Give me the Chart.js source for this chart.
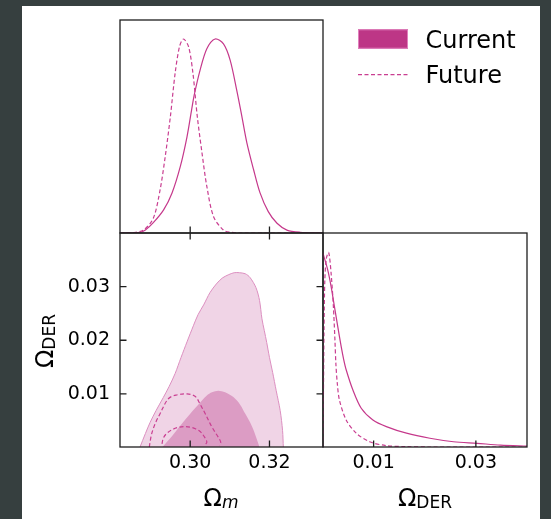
<!DOCTYPE html>
<html>
<head>
<meta charset="utf-8">
<title>Omega_m / Omega_DER</title>
<script src="https://cdn.jsdelivr.net/npm/chart.js@4.4.1/dist/chart.umd.min.js"></script>
<style>
  html, body { margin: 0; padding: 0; background: #363f3f; }
  #page { position: relative; width: 551px; height: 519px; overflow: hidden; font-family: "DejaVu Sans", sans-serif; }
  #paper { position: absolute; left: 22px; top: 6px; width: 518px; height: 513px; background: #fff; }
  canvas { position: absolute; }
  .axlab { position: absolute; font-size: 24px; line-height: 24px; color: #000; white-space: nowrap; }
  .axlab sub { font-size: 17px; line-height: 0; vertical-align: baseline; position: relative; top: 2px; }
</style>
</head>
<body>
<div id="page">
  <div id="paper"></div>
  <canvas id="omPanel" width="421" height="215" style="left:119px; top:19px;"></canvas>
  <canvas id="jointPanel" width="302" height="250" style="left:22px; top:232px;"></canvas>
  <canvas id="derPanel" width="206" height="250" style="left:322px; top:232px;"></canvas>
  <div class="axlab" style="left:221px; top:486px; transform: translateX(-50%);">Ω<sub><i>m</i></sub></div>
  <div class="axlab" style="left:425px; top:486px; transform: translateX(-50%);">Ω<sub>DER</sub></div>
  <div class="axlab" style="left:45px; top:341px; transform: translate(-50%, -50%) rotate(-90deg);">Ω<sub>DER</sub></div>
</div>
<script>
// axis ranges and ticks
const omRange = [0.2823, 0.3335];
const omTicks = [0.30, 0.32];
const derRange = [0.0001, 0.0400];
const derTicks = [0.01, 0.02, 0.03];
const derLabelTicks = [0.01, 0.03];

// 1D marginal of Omega_m
const omCurX = [0.2823, 0.2874, 0.2887, 0.2907, 0.2933, 0.2954, 0.2975, 0.2992, 0.3004, 0.3010, 0.3025, 0.3042, 0.3063, 0.3084, 0.3101, 0.3118, 0.3130, 0.3143, 0.3160, 0.3176, 0.3197, 0.3219, 0.3244, 0.3277, 0.3335];
const omCurP = [0, 0.004, 0.015, 0.053, 0.119, 0.205, 0.342, 0.496, 0.64, 0.71, 0.84, 0.95, 1.0, 0.975, 0.89, 0.73, 0.605, 0.465, 0.326, 0.208, 0.110, 0.050, 0.015, 0.004, 0];
const omFutX = [0.2823, 0.2856, 0.2882, 0.2907, 0.2924, 0.2937, 0.2950, 0.2962, 0.2973, 0.2983, 0.2996, 0.3007, 0.3018, 0.3030, 0.3042, 0.3059, 0.3084, 0.3101, 0.3126, 0.3335];
const omFutP = [0, 0.002, 0.015, 0.076, 0.221, 0.393, 0.599, 0.823, 0.960, 1.0, 0.960, 0.823, 0.599, 0.410, 0.240, 0.084, 0.015, 0.004, 0, 0];

// 1D marginal of Omega_DER
const derCurX = [0.00005, 0.00101, 0.00168, 0.00233, 0.00298, 0.00365, 0.00416, 0.00463, 0.00593, 0.00758, 0.00986, 0.01249, 0.01643, 0.02101, 0.02562, 0.03022, 0.03481, 0.04006];
const derCurP = [1.0, 0.912, 0.826, 0.723, 0.620, 0.517, 0.448, 0.397, 0.294, 0.199, 0.139, 0.105, 0.071, 0.045, 0.027, 0.019, 0.010, 0.005];
const derFutX = [0.00003, 0.00017, 0.00030, 0.00046, 0.00076, 0.00121, 0.00168, 0.00213, 0.00243, 0.00263, 0.00292, 0.00331, 0.00463, 0.00660, 0.00922, 0.01250, 0.01643, 0.02102, 0.04006];
const derFutP = [0, 0.24, 0.60, 0.86, 0.97, 1.0, 0.895, 0.723, 0.552, 0.423, 0.32, 0.242, 0.139, 0.071, 0.027, 0.007, 0.002, 0, 0];

// 2D contours (Omega_m, Omega_DER)
const cur95X = [0.2873, 0.2887, 0.2899, 0.2914, 0.2932, 0.2947, 0.2962, 0.2977, 0.2992, 0.3008, 0.3020, 0.3034, 0.3050, 0.3066, 0.3081, 0.3096, 0.3111, 0.3124, 0.3139, 0.3151, 0.3166, 0.3175, 0.3181, 0.3187, 0.3193, 0.3200, 0.3208, 0.3217, 0.3227, 0.3233, 0.3235];
const cur95Y = [0, 0.0026, 0.0047, 0.0069, 0.0093, 0.0114, 0.0138, 0.0168, 0.0197, 0.0227, 0.0248, 0.0266, 0.0289, 0.0305, 0.0316, 0.0322, 0.0326, 0.0326, 0.0324, 0.0317, 0.0298, 0.0274, 0.0240, 0.0218, 0.0196, 0.0168, 0.0140, 0.0106, 0.0069, 0.0032, 0];
const cur68X = [0.2929, 0.2955, 0.2992, 0.3018, 0.3042, 0.3055, 0.3071, 0.3088, 0.3109, 0.3126, 0.3139, 0.3151, 0.3160, 0.3172, 0.3175];
const cur68Y = [0, 0.0022, 0.0056, 0.0078, 0.0097, 0.0103, 0.0106, 0.0103, 0.0094, 0.0080, 0.0063, 0.0047, 0.0032, 0.0007, 0];
const fut95X = [0.2897, 0.2899, 0.2903, 0.2912, 0.2924, 0.2945, 0.2966, 0.2992, 0.3013, 0.3025, 0.3038, 0.3055, 0.3071, 0.3077, 0.3074];
const fut95Y = [0.0001, 0.0011, 0.0026, 0.0045, 0.0063, 0.0091, 0.0098, 0.0100, 0.0095, 0.0081, 0.0063, 0.0038, 0.0019, 0.0010, 0.0004];
const fut68X = [0.2929, 0.2932, 0.2939, 0.2954, 0.2967, 0.2983, 0.3000, 0.3013, 0.3025, 0.3034, 0.3042, 0.3035];
const fut68Y = [0.0007, 0.0017, 0.0025, 0.0033, 0.0037, 0.0039, 0.0038, 0.0035, 0.0030, 0.0022, 0.0010, 0.0004];

const lineCurrent = '#c5388b';
const lineFuture = '#c93e91';
const currentFill = '#bd3686';
const outerFill = '#f0d4e6';
const outerEdge = '#dc8fc0';
const innerFill = '#dc9cc4';

Chart.defaults.font.family = '"DejaVu Sans", sans-serif';
Chart.defaults.color = '#000';

function pts(xs, ys) {
    return xs.map((x, i) => ({x: x, y: ys[i]}));
}

// box around the panel plus inward ticks
const framePlugin = {
    id: 'frame',
    afterDraw(chart, args, opts) {
        const ctx = chart.ctx, a = chart.chartArea, sx = chart.scales.x, sy = chart.scales.y;
        const len = 6.5;
        ctx.save();
        ctx.strokeStyle = '#1e1e1e';
        ctx.lineWidth = 1.3;
        ctx.strokeRect(a.left, a.top, a.right - a.left, a.bottom - a.top);
        ctx.beginPath();
        (opts.bottom || []).forEach(v => { const x = sx.getPixelForValue(v); ctx.moveTo(x, a.bottom); ctx.lineTo(x, a.bottom - len); });
        (opts.top || []).forEach(v => { const x = sx.getPixelForValue(v); ctx.moveTo(x, a.top); ctx.lineTo(x, a.top + len); });
        (opts.left || []).forEach(v => { const y = sy.getPixelForValue(v); ctx.moveTo(a.left, y); ctx.lineTo(a.left + len, y); });
        (opts.right || []).forEach(v => { const y = sy.getPixelForValue(v); ctx.moveTo(a.right, y); ctx.lineTo(a.right - len, y); });
        ctx.stroke();
        ctx.restore();
    }
};

// legend to the right of the top panel
const cornerLegend = {
    id: 'cornerLegend',
    afterDraw(chart) {
        const ctx = chart.ctx, a = chart.chartArea;
        const cur = chart.data.datasets.find(d => d.label == 'Current');
        const fut = chart.data.datasets.find(d => d.label == 'Future');
        const x0 = a.right + 35, w = 50;
        ctx.save();
        ctx.fillStyle = currentFill;
        ctx.fillRect(x0, a.top + 9.3, w, 19.4);
        ctx.strokeStyle = '#e07fbd';
        ctx.lineWidth = 1;
        ctx.strokeRect(x0 + 0.5, a.top + 9.8, w - 1, 18.4);
        ctx.beginPath();
        ctx.setLineDash(fut.borderDash);
        ctx.strokeStyle = fut.borderColor;
        ctx.lineWidth = fut.borderWidth;
        ctx.moveTo(x0, a.top + 54.7);
        ctx.lineTo(x0 + w, a.top + 54.7);
        ctx.stroke();
        ctx.setLineDash([]);
        ctx.font = '24px "DejaVu Sans"';
        ctx.textBaseline = 'alphabetic';
        ctx.fillStyle = '#000';
        ctx.fillText(cur.label, a.right + 102.5, a.top + 28);
        ctx.fillText(fut.label, a.right + 102.5, a.top + 63);
        ctx.restore();
    }
};

function tickAxis(range, values, padding, fit) {
    return {
        type: 'linear',
        min: range[0],
        max: range[1],
        afterBuildTicks: s => { s.ticks = values.map(v => ({value: v})); },
        afterFit: s => {
            fit(s);
            // the panel box is fixed, so no room is kept for half labels
            s.paddingTop = 0; s.paddingBottom = 0; s.paddingLeft = 0; s.paddingRight = 0;
        },
        ticks: { callback: v => v.toFixed(2), font: {size: 19}, color: '#000', autoSkip: false, maxRotation: 0, padding: padding },
        grid: { display: false, drawTicks: false },
        border: { display: false }
    };
}

const baseOptions = {
    responsive: false,
    animation: false,
    events: [],
    elements: { point: { radius: 0 } }
};

// top: Omega_m marginal
new Chart(document.getElementById('omPanel'), {
    type: 'line',
    data: {
        datasets: [
            { label: 'Future', data: pts(omFutX, omFutP), borderColor: lineFuture, borderDash: [4, 2.5], borderWidth: 1.2, tension: 0.3, fill: false },
            { label: 'Current', data: pts(omCurX, omCurP), borderColor: lineCurrent, borderWidth: 1.2, tension: 0.3, fill: false }
        ]
    },
    options: Object.assign({}, baseOptions, {
        layout: { padding: { left: 1, top: 1, bottom: 1, right: 217 } },
        scales: {
            x: { type: 'linear', min: omRange[0], max: omRange[1], display: false },
            y: { min: 0, max: 1.098, display: false }
        },
        plugins: { legend: { display: false }, tooltip: { enabled: false }, frame: { bottom: omTicks } }
    }),
    plugins: [framePlugin, cornerLegend]
});

// bottom left: 2D contours
new Chart(document.getElementById('jointPanel'), {
    type: 'line',
    data: {
        datasets: [
            { label: 'Future 68', data: pts(fut68X, fut68Y), borderColor: lineFuture, borderDash: [4, 2.5], borderWidth: 1.2, tension: 0.35, fill: false },
            { label: 'Future 95', data: pts(fut95X, fut95Y), borderColor: lineFuture, borderDash: [4, 2.5], borderWidth: 1.2, tension: 0.35, fill: false },
            { label: 'Current 68', data: pts(cur68X, cur68Y), borderColor: innerFill, borderWidth: 0, backgroundColor: innerFill, tension: 0.3, fill: 'origin' },
            { label: 'Current 95', data: pts(cur95X, cur95Y), borderColor: outerEdge, borderWidth: 1, backgroundColor: outerFill, tension: 0.3, fill: 'origin' }
        ]
    },
    options: Object.assign({}, baseOptions, {
        layout: { padding: { left: 0, top: 1, bottom: 0, right: 1 } },
        scales: {
            x: tickAxis(omRange, omTicks, 5, s => { s.height = 35; }),
            y: tickAxis(derRange, derTicks, 10, s => { s.width = 98; })
        },
        plugins: { legend: { display: false }, tooltip: { enabled: false }, frame: { bottom: omTicks, top: omTicks, left: derTicks, right: derTicks } }
    }),
    plugins: [framePlugin]
});

// bottom right: Omega_DER marginal
new Chart(document.getElementById('derPanel'), {
    type: 'line',
    data: {
        datasets: [
            { label: 'Future', data: pts(derFutX, derFutP), borderColor: lineFuture, borderDash: [4, 2.5], borderWidth: 1.2, tension: 0.3, fill: false },
            { label: 'Current', data: pts(derCurX, derCurP), borderColor: lineCurrent, borderWidth: 1.2, tension: 0.3, fill: false }
        ]
    },
    options: Object.assign({}, baseOptions, {
        layout: { padding: { left: 1, top: 1, bottom: 0, right: 1 } },
        scales: {
            x: tickAxis(derRange, derLabelTicks, 5, s => { s.height = 35; }),
            y: { min: 0, max: 1.10, display: false }
        },
        plugins: { legend: { display: false }, tooltip: { enabled: false }, frame: { bottom: derLabelTicks } }
    }),
    plugins: [framePlugin]
});
</script>
</body>
</html>
